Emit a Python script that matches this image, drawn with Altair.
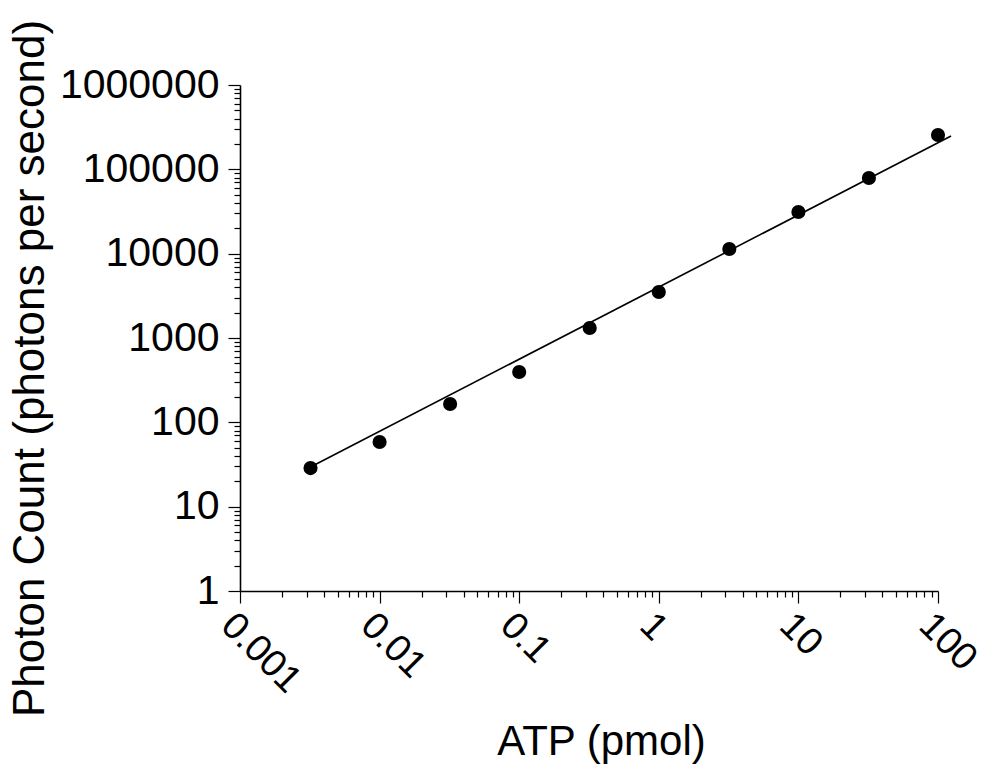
import altair as alt
import pandas as pd

# Data
atp_pmol = [0.0032, 0.01, 0.032, 0.1, 0.32, 1, 3.2, 10, 32, 100]
photon_count = [28.7, 58.5, 165, 395, 1315, 3515, 11360, 31200, 78900, 255000]

# fitted line (its two end points)
fit_atp = [0.0032, 124]
fit_count = [29.5, 248000]

# axis tick positions (log decades with minor ticks 2..9)
x_decades = [-3, -2, -1, 0, 1]
y_decades = [0, 1, 2, 3, 4, 5]
x_ticks = [k * 10.0 ** d if d >= 0 else k / 10.0 ** (-d) for d in x_decades for k in range(1, 10)] + [100]
y_ticks = [k * 10 ** d for d in y_decades for k in range(1, 10)] + [1000000]

pts = pd.DataFrame({"x": atp_pmol, "y": photon_count})
fit = pd.DataFrame({"x": fit_atp, "y": fit_count})

FONT = "Liberation Sans"
is_major = "abs(log(datum.value)/LN10 - round(log(datum.value)/LN10)) < 1e-6"

xscale = alt.Scale(type="log", domain=[0.001, 100], nice=False)
yscale = alt.Scale(type="log", domain=[1, 1000000], nice=False)

xaxis = alt.Axis(
    title="ATP (pmol)",
    values=x_ticks,
    labelExpr=f"{is_major} ? '' + datum.value : ''",
    labelAngle=45,
    labelAlign="left",
    labelBaseline="top",
    labelFont=FONT,
    labelFontSize=38,
    labelColor="black",
    labelPadding=3,
    labelOverlap=False,
    labelFlush=False,
    tickSize={"condition": {"test": is_major, "value": 12}, "value": 6},
    tickColor="black",
    tickWidth=1.2,
    domainColor="black",
    domainWidth=1.6,
    grid=False,
    titleFont=FONT,
    titleFontSize=42,
    titleFontWeight="normal",
    titleColor="black",
    titleX=361,
    titleY=150,
    titleBaseline="middle",
)

yaxis = alt.Axis(
    title="Photon Count (photons per second)",
    values=y_ticks,
    labelExpr=f"{is_major} ? '' + datum.value : ''",
    labelFont=FONT,
    labelFontSize=41,
    labelColor="black",
    labelPadding=9,
    labelOverlap=False,
    labelFlush=False,
    labelBaseline="middle",
    tickSize={"condition": {"test": is_major, "value": 12}, "value": 6},
    tickColor="black",
    tickWidth=1.2,
    domainColor="black",
    domainWidth=1.6,
    grid=False,
    titleFont=FONT,
    titleFontSize=44,
    titleFontWeight="normal",
    titleColor="black",
    titleAngle=-90,
    titleX=-210,
    titleY=283,
    titleBaseline="middle",
)

line = alt.Chart(fit).mark_line(color="black", strokeWidth=1.6).encode(
    x=alt.X("x:Q", scale=xscale, axis=xaxis),
    y=alt.Y("y:Q", scale=yscale, axis=yaxis),
)

points = alt.Chart(pts).mark_circle(color="black", opacity=1, size=200).encode(
    x=alt.X("x:Q", scale=xscale, axis=xaxis),
    y=alt.Y("y:Q", scale=yscale, axis=yaxis),
)

noframe = alt.ViewBackground(stroke="transparent", strokeWidth=0, strokeOpacity=0)

chart = (
    alt.layer(line, points)
    .properties(
        width=698,
        height=506,
        autosize="none",
        padding={"left": 240, "top": 85, "right": 49, "bottom": 181},
        view=noframe,
    )
    .configure_view(strokeWidth=0, stroke="transparent", strokeOpacity=0)
    .configure(background="white")
)

chart.save("out.html", embed_options={"renderer": "svg", "actions": False})
